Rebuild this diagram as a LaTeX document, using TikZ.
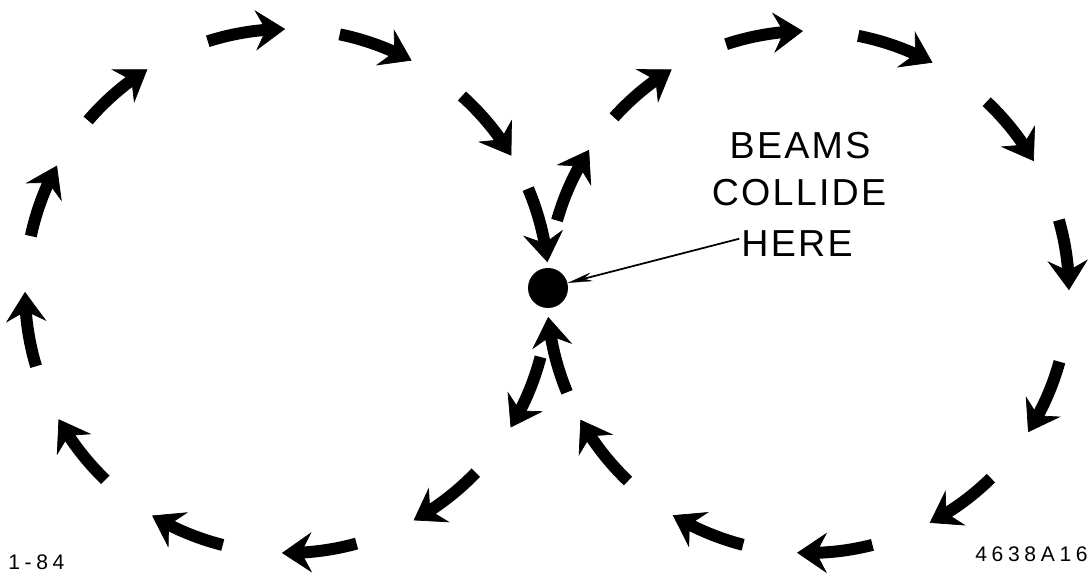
\documentclass[tikz,border=0pt]{standalone}
\usepackage{fontspec}
\setmainfont{Liberation Sans}
\newfontfamily\captionfont[LetterSpace=6]{Liberation Sans}
\newfontfamily\tagfont[LetterSpace=22]{Liberation Sans}
\usetikzlibrary{arrows.meta,bending}

\begin{document}
\begin{tikzpicture}[x=0.02cm,y=0.02cm,
    beam/.style={line width=6.8pt,-{Stealth[length=17pt,width=23pt,inset=6pt,line width=0.4pt]}},
    leader/.style={line width=1pt,-{Stealth[length=14pt,width=5pt,line width=0.2pt]}},
    caption/.style={font=\captionfont\fontsize{21.4}{24}\selectfont,inner sep=1pt},
    tag/.style={font=\tagfont\fontsize{12}{14}\selectfont,inner sep=0pt}]
  \useasboundingbox (0,0) rectangle (1090,577);
  % ring centres, pixel grid with y up
  \coordinate (lc) at (287,286);
  \coordinate (rc) at (808,285);
  % left ring, clockwise
  \foreach \s/\e in {107.6/90.4,78.4/61.6,48.1/31.1,23/6.3,-14.6/-31.4,-43.9/-61.1,
      -74.6/-91.1,-104.2/-121,-133.9/-150.7,-163.3/-179.8,167.9/151.4,139.4/122.2}
    \draw[beam] (lc) ++(\s:262) arc[start angle=\s,end angle=\e,radius=262];
  % right ring, clockwise
  \foreach \s/\e in {108.3/91.1,78.9/61.5,46.8/30.1,16/0.4,-15.5/-32.5,-45.5/-62.2,
      -75.7/-92.4,-104.4/-121.2,-133.6/-150.7,-157.4/-174.5,164.1/147,138/121.5}
    \draw[beam] (rc) ++(\s:261) arc[start angle=\s,end angle=\e,radius=261];
  % interaction point
  \node[circle,fill,inner sep=0pt,minimum size=0.8cm] (ip) at (548,289) {};
  \node[caption] (beams) at (800,431) {BEAMS};
  \node[caption] (collide) at (799,384) {COLLIDE};
  \node[caption] (here) at (797,333) {HERE};
  \draw[leader] ([yshift=3pt]here.west) -- (ip);
  \node[tag,anchor=south west] (date) at (8,7) {1-84};
  \node[tag,anchor=south east] (code) at (1088,15) {4638A16};
\end{tikzpicture}
\end{document}
